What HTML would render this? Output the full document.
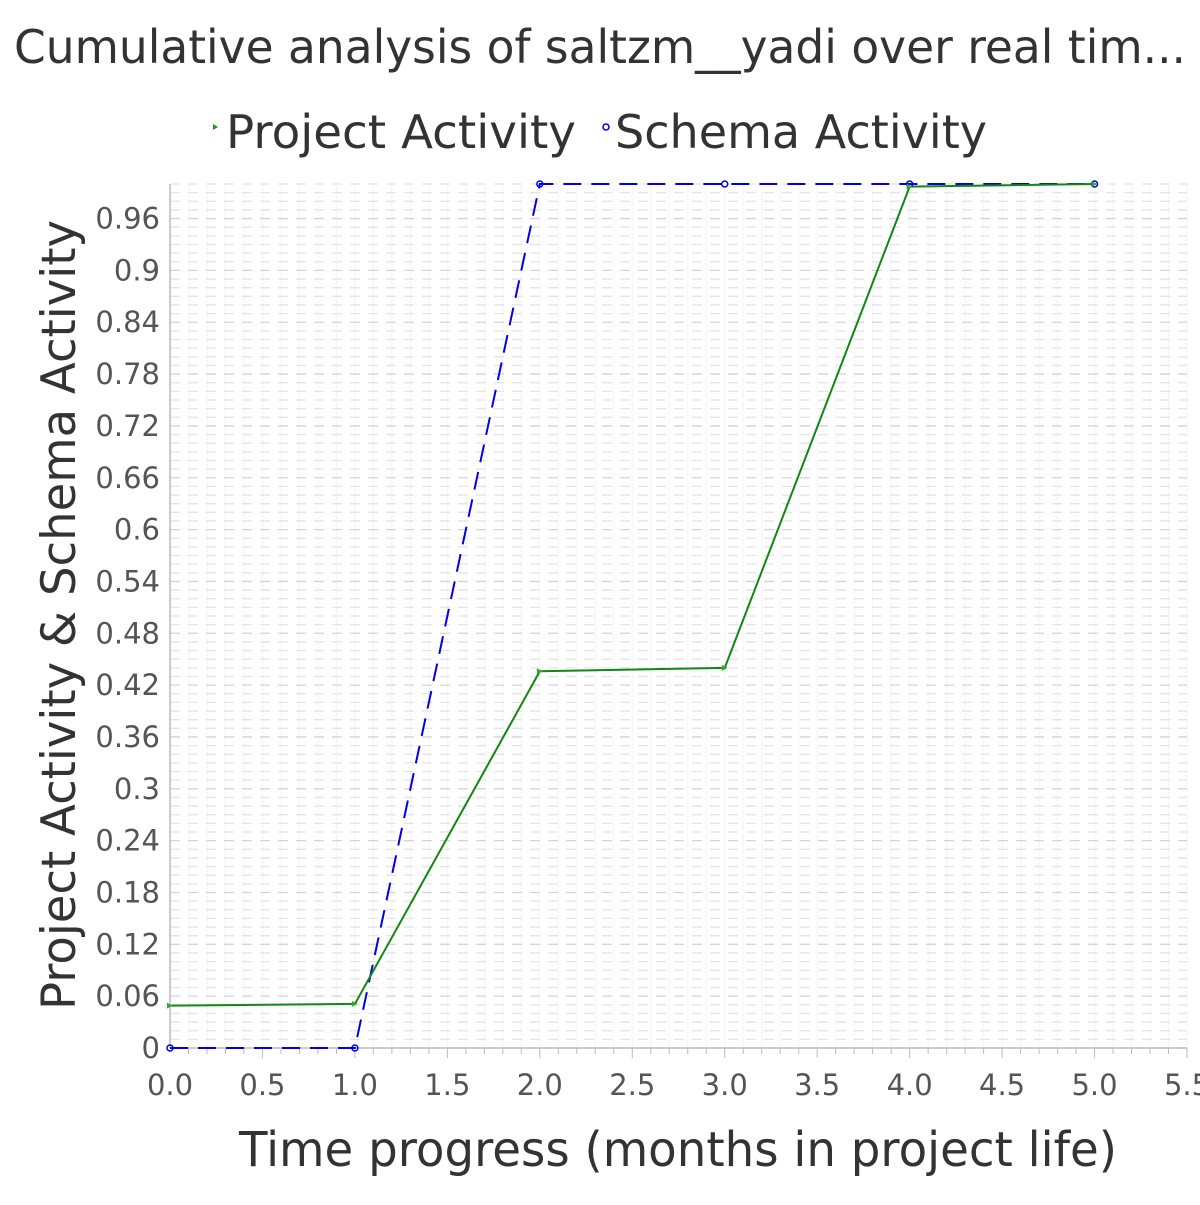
<!DOCTYPE html>
<html><head><meta charset="utf-8"><style>
body{margin:0;background:#fff;}
svg text{font-family:"DejaVu Sans","Liberation Sans",sans-serif;}
</style></head><body>
<svg id="chart" width="1200" height="1200" xmlns="http://www.w3.org/2000/svg">
<rect width="1200" height="1200" fill="#fff"/>
<text x="600" y="63" font-size="46" fill="#333" text-anchor="middle" textLength="1172" lengthAdjust="spacingAndGlyphs">Cumulative analysis of saltzm__yadi over real tim...</text>
<g>
<g><path d="M213,124 l5,3 l-5,3z" fill="#1a9a1a"/><text x="226" y="148" font-size="46" fill="#333" textLength="350" lengthAdjust="spacingAndGlyphs">Project Activity</text></g>
<g><circle cx="606" cy="127" r="3" fill="none" stroke="#0000ee" stroke-width="1.5"/><text x="615" y="148" font-size="46" fill="#333" textLength="372" lengthAdjust="spacingAndGlyphs">Schema Activity</text></g>
</g>
<g id="grid"></g>
<g id="axes"></g>
<g id="series"></g>
<text x="678" y="1166" font-size="48" fill="#333" text-anchor="middle" textLength="878" lengthAdjust="spacingAndGlyphs">Time progress (months in project life)</text>
<text transform="translate(75,615) rotate(-90)" font-size="47" fill="#333" text-anchor="middle" textLength="790" lengthAdjust="spacingAndGlyphs">Project Activity &amp; Schema Activity</text>
</svg>
<script>
const xValues=[0,1,2,3,4,5];
const projectValues=[0.049,0.051,0.436,0.440,0.997,1.0];
const schemaValues=[0,0,1,1,1,1];
const xTickLabels=["0.0","0.5","1.0","1.5","2.0","2.5","3.0","3.5","4.0","4.5","5.0","5.5"];
const yTickLabels=["0","0.06","0.12","0.18","0.24","0.3","0.36","0.42","0.48","0.54","0.6","0.66","0.72","0.78","0.84","0.9","0.96"];
const X0=170,X1=1187,Y0=1048,Y1=184,XMAX=5.5,YMAX=1.0;
const sx=v=>X0+(X1-X0)*v/XMAX, sy=v=>Y0-(Y0-Y1)*v/YMAX;
const NS="http://www.w3.org/2000/svg";
function mk(t,a,p){const e=document.createElementNS(NS,t);for(const k in a)e.setAttribute(k,a[k]);p.appendChild(e);return e;}
const grid=document.getElementById('grid'),axes=document.getElementById('axes'),series=document.getElementById('series');
for(let i=1;i<=55;i++){const x=sx(i/10);
const l=mk('line',{x1:x,x2:x,y1:Y1,y2:Y0,stroke:'#f4f4f4','stroke-width':1},grid);


mk('line',{x1:x,x2:x,y1:Y0,y2:Y0+(i%5===0?10:6),stroke:'#bbb','stroke-width':1},axes);}
for(let i=1;i<=100;i++){const y=sy(i/100);
const l=mk('line',{x1:X0,x2:X1,y1:y,y2:y,stroke:i%6===0?'#d4d4d4':'#e4e4e4','stroke-width':1.3,'stroke-dasharray':'10,8'},grid);

}
mk('line',{x1:X0,x2:X0,y1:Y1,y2:Y0,stroke:'#bbb','stroke-width':1.5},axes);
mk('line',{x1:X0,x2:X1,y1:Y0,y2:Y0,stroke:'#bbb','stroke-width':1.5},axes);
xTickLabels.forEach((s,i)=>{const t=mk('text',{x:sx(i*0.5),y:1095,'font-size':29,fill:'#555','text-anchor':'middle'},axes);t.textContent=s;

});
yTickLabels.forEach((s,i)=>{const t=mk('text',{x:160,y:sy(i*0.06)+10,'font-size':29,fill:'#555','text-anchor':'end'},axes);t.textContent=s;

});
const sp=mk('polyline',{points:xValues.map((x,i)=>sx(x)+','+sy(schemaValues[i])).join(' '),fill:'none',stroke:'#0000ee','stroke-width':2,'stroke-dasharray':'18,10'},series);


const pp=mk('polyline',{points:xValues.map((x,i)=>sx(x)+','+sy(projectValues[i])).join(' '),fill:'none',stroke:'#118811','stroke-width':2},series);


xValues.forEach((x,i)=>{
const c=mk('circle',{cx:sx(x),cy:sy(schemaValues[i]),r:3,fill:'none',stroke:'#0000ee','stroke-width':1.5},series);


const px=sx(x),py=sy(projectValues[i]);
const m=mk('path',{d:`M${px-3},${py-3} L${px+3},${py} L${px-3},${py+3}Z`,fill:'#33aa33'},series);

});
</script>
</body></html>
